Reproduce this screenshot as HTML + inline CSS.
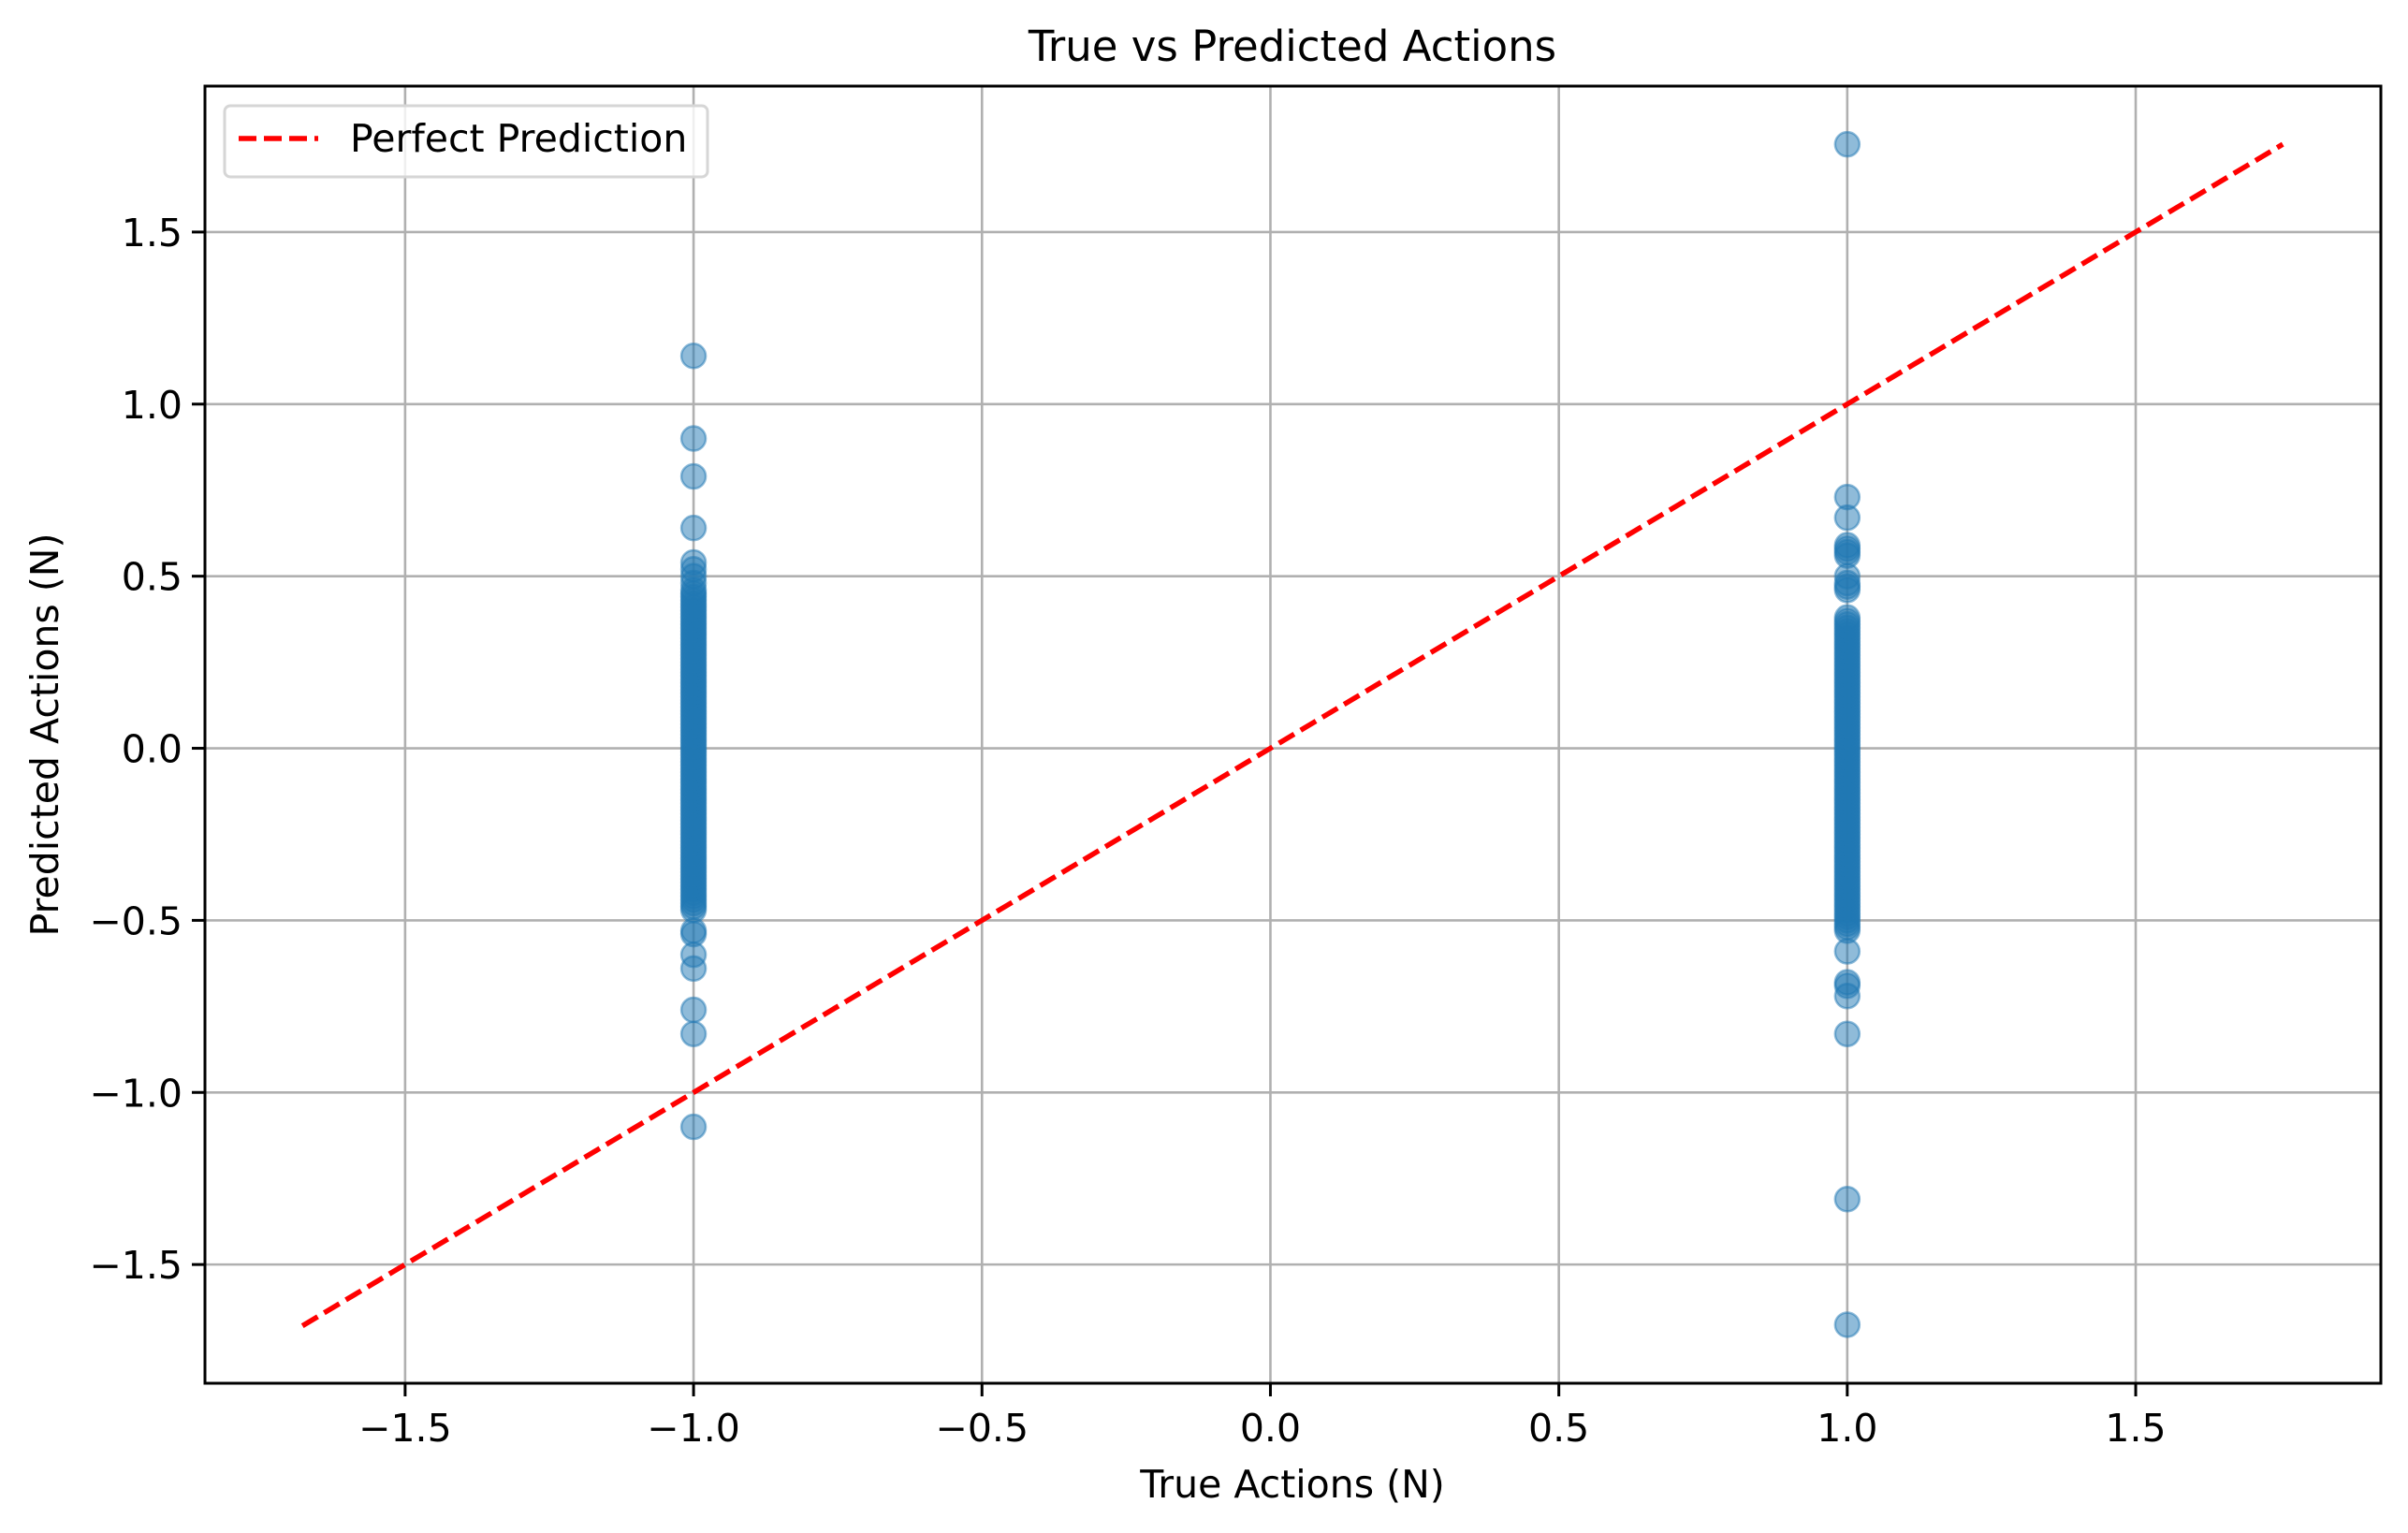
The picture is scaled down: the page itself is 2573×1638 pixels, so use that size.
<!DOCTYPE html>
<html><head><meta charset="utf-8"><style>
html,body{margin:0;padding:0;background:#fff}
svg{display:block}
text{font-family:"DejaVu Sans","Liberation Sans",sans-serif;fill:#000}
</style></head><body>
<svg id="chart" width="2573" height="1638" viewBox="0 0 2573 1638" xmlns="http://www.w3.org/2000/svg">
<rect x="0" y="0" width="2573" height="1638" fill="#fff"/>
<g id="grid"></g>
<g id="line"></g>
<g id="pts"></g>
<rect x="219" y="92" width="2325" height="1386" fill="none" stroke="#000" stroke-width="3"/>
<g id="ticks"></g>
<text x="1381" y="65" font-size="45" text-anchor="middle">True vs Predicted Actions</text>
<text x="1381" y="1600" font-size="41" text-anchor="middle">True Actions (N)</text>
<text x="0" y="0" font-size="41" text-anchor="middle" transform="translate(62,785) rotate(-90)">Predicted Actions (N)</text>
<g>
<rect x="240" y="113" width="516" height="76" rx="6" fill="#fff" fill-opacity="0.8" stroke="#d6d6d6" stroke-width="3"/>
<line x1="255" y1="148" x2="340" y2="148" stroke="#ff0000" stroke-width="5.5" stroke-dasharray="19,8"/>
<text x="374" y="162" font-size="41">Perfect Prediction</text>
</g>
</svg>
<script>
const xTicks=[-1.5,-1.0,-0.5,0.0,0.5,1.0,1.5];
const xTickLabels=["−1.5","−1.0","−0.5","0.0","0.5","1.0","1.5"];
const yTicks=[-1.5,-1.0,-0.5,0.0,0.5,1.0,1.5];
const yTickLabels=["−1.5","−1.0","−0.5","0.0","0.5","1.0","1.5"];
const lineRange=[-1.678,1.755];
const xNegVals=[1.14,0.90,0.79,0.64,0.54,0.52,0.50,0.48,0.46,0.45,0.44,0.43,0.42,0.41,0.40,0.39,0.38,0.37,0.36,0.35,0.34,0.33,0.32,0.31,0.30,0.29,0.28,0.27,0.26,0.25,0.24,0.23,0.22,0.21,0.20,0.19,0.18,0.17,0.16,0.15,0.14,0.13,0.12,0.11,0.10,0.09,0.08,0.07,0.06,0.05,0.04,0.03,0.02,0.01,0.00,-0.01,-0.02,-0.03,-0.04,-0.05,-0.06,-0.07,-0.08,-0.09,-0.10,-0.11,-0.12,-0.13,-0.14,-0.15,-0.16,-0.17,-0.18,-0.19,-0.20,-0.21,-0.22,-0.23,-0.24,-0.25,-0.26,-0.27,-0.28,-0.29,-0.30,-0.31,-0.32,-0.33,-0.34,-0.35,-0.36,-0.37,-0.38,-0.39,-0.40,-0.41,-0.42,-0.43,-0.44,-0.45,-0.46,-0.47,-0.53,-0.54,-0.60,-0.64,-0.76,-0.83,-1.10];
const xPosVals=[1.755,0.73,0.67,0.59,0.58,0.57,0.56,0.50,0.48,0.47,0.46,0.38,0.37,0.36,0.35,0.34,0.33,0.32,0.31,0.30,0.29,0.28,0.27,0.26,0.25,0.24,0.23,0.22,0.21,0.20,0.19,0.18,0.17,0.16,0.15,0.14,0.13,0.12,0.11,0.10,0.09,0.08,0.07,0.06,0.05,0.04,0.03,0.02,0.01,0.00,-0.01,-0.02,-0.03,-0.04,-0.05,-0.06,-0.07,-0.08,-0.09,-0.10,-0.11,-0.12,-0.13,-0.14,-0.15,-0.16,-0.17,-0.18,-0.19,-0.20,-0.21,-0.22,-0.23,-0.24,-0.25,-0.26,-0.27,-0.28,-0.29,-0.30,-0.31,-0.32,-0.33,-0.34,-0.35,-0.36,-0.37,-0.38,-0.39,-0.40,-0.41,-0.42,-0.43,-0.44,-0.45,-0.46,-0.47,-0.48,-0.49,-0.50,-0.51,-0.52,-0.53,-0.59,-0.68,-0.69,-0.72,-0.83,-1.31,-1.675];
const NS="http://www.w3.org/2000/svg";
const X0=219,X1=2544,Y0=92,Y1=1478;
const xDom=[-1.847,1.925], yDom=[-1.845,1.924];
function xs(v){return X0+(v-xDom[0])/(xDom[1]-xDom[0])*(X1-X0);}
function ys(v){return Y1-(v-yDom[0])/(yDom[1]-yDom[0])*(Y1-Y0);}
function mk(t,a,p){const e=document.createElementNS(NS,t);for(const k in a)e.setAttribute(k,a[k]);p.appendChild(e);return e;}
const grid=document.getElementById('grid'),ticks=document.getElementById('ticks');
xTicks.forEach((v,i)=>{
  const g=mk('line',{x1:xs(v),x2:xs(v),y1:Y0,y2:Y1,stroke:'#b0b0b0','stroke-width':2.6},grid);
  
  
  const t=mk('line',{x1:xs(v),x2:xs(v),y1:Y1,y2:Y1+14,stroke:'#000','stroke-width':3},ticks);
  
  
  const l=mk('text',{x:xs(v),y:Y1+62,'font-size':41,'text-anchor':'middle'},ticks);
  
  
  l.textContent=xTickLabels[i];
});
yTicks.forEach((v,i)=>{
  const g=mk('line',{x1:X0,x2:X1,y1:ys(v),y2:ys(v),stroke:'#b0b0b0','stroke-width':2.6},grid);
  
  
  const t=mk('line',{x1:X0-14,x2:X0,y1:ys(v),y2:ys(v),stroke:'#000','stroke-width':3},ticks);
  
  
  const l=mk('text',{x:X0-24,y:ys(v)+15,'font-size':41,'text-anchor':'end'},ticks);
  
  
  l.textContent=yTickLabels[i];
});
const ln=mk('line',{x1:xs(lineRange[0]),y1:ys(lineRange[0]),x2:xs(lineRange[1]),y2:ys(lineRange[1]),stroke:'#ff0000','stroke-width':5.5,'stroke-dasharray':'19,8'},document.getElementById('line'));


const pts=document.getElementById('pts');
[[-1,xNegVals],[1,xPosVals]].forEach(([xv,arr])=>{
  arr.forEach(v=>{
    const c=mk('circle',{cx:xs(xv),cy:ys(v),r:13,fill:'#1f77b4','fill-opacity':0.5,stroke:'#1f77b4','stroke-opacity':0.5,'stroke-width':2.5},pts);
    
    
  });
});
</script>
</body></html>
